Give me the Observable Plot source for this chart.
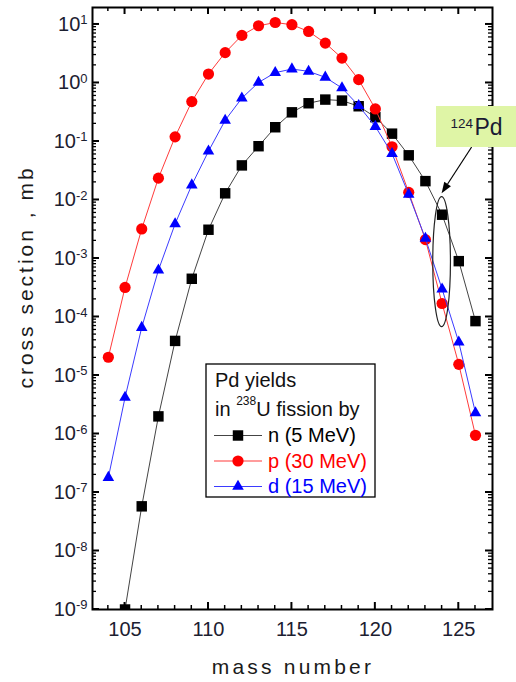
<!DOCTYPE html>
<html>
<head>
<meta charset="utf-8">
<script src="https://cdn.jsdelivr.net/npm/d3@7"></script>
<script src="https://cdn.jsdelivr.net/npm/@observablehq/plot@0.6"></script>
<style>
  body { margin: 0; background: #fff; }
  #chart { position: relative; width: 516px; height: 682px; }
  svg { overflow: visible; }
</style>
</head>
<body>
<div id="chart"></div>
<script>
// ---- data ----
const nMass = [105,106,107,108,109,110,111,112,113,114,115,116,117,118,119,120,121,122,123,124,125,126];
const nValues = [1.0e-9,5.8e-8,2.0e-6,3.9e-5,4.5e-4,3.1e-3,1.3e-2,3.9e-2,8.3e-2,0.175,0.315,0.45,0.52,0.50,0.40,0.26,0.136,0.058,0.021,5.6e-3,9.0e-4,8.5e-5];
const pMass = [104,105,106,107,108,109,110,111,112,113,114,115,116,117,118,119,120,121,122,123,124,125,126];
const pValues = [2.05e-5,3.2e-4,3.2e-3,0.0236,0.12,0.48,1.42,3.3,6.5,9.5,10.8,9.9,7.6,4.8,2.66,1.14,0.36,0.081,0.0135,2.1e-3,1.7e-4,1.55e-5,9.5e-7];
const dMass = [104,105,106,107,108,109,110,111,112,113,114,115,116,117,118,119,120,121,122,123,124,125,126];
const dValues = [1.8e-7,4.2e-6,6.6e-5,6.3e-4,3.9e-3,0.018,0.068,0.23,0.55,1.02,1.5,1.73,1.58,1.25,0.82,0.41,0.18,0.062,0.0124,2.2e-3,3.0e-4,3.7e-5,2.3e-6];

const seriesLabels = ["n (5 MeV)", "p (30 MeV)", "d (15 MeV)"];
const seriesColors = ["#000000", "#ff0000", "#0000ff"];
const lineColors = ["#444444", "#ff3b3b", "#3b3bff"];
const seriesSymbols = ["square", "circle", "triangle"];
const legendTitle = ["Pd yields", "in ", "238", "U fission by"];

const xMajorTicks = [105, 110, 115, 120, 125];
const xMinorTicks = [104,106,107,108,109,111,112,113,114,116,117,118,119,121,122,123,124,126];
const yMajorTicks = [1e-9,1e-8,1e-7,1e-6,1e-5,1e-4,1e-3,1e-2,1e-1,1e0,1e1];
const yMinorTicks = [];
for (const m of yMajorTicks) for (const k of [2,3,4,5,6,7,8,9]) if (k*m < 19) yMinorTicks.push(k*m);

const xTitle = "mass number";
const yTitle = "cross section , mb";
const annIsotope = ["124", "Pd"];
const annMass = 124;
const annEllipseY = [1.12e-2, 6.7e-5];
const annArrowFrom = [125.8, 0.079];
const annArrowToY = 0.0128;

// ---- layout ----
const W = 516, H = 682, mL = 92, mR = 24, mT = 7, mB = 73;
const majorLen = 7, minorLen = 4;

// ---- build rows ----
const rowsOf = (mass, vals) => mass.map((m, i) => ({mass: m, value: vals[i]}));
const allRows = [rowsOf(nMass, nValues), rowsOf(pMass, pValues), rowsOf(dMass, dValues)];
const dotR = [5.9, 5.6, 4.3];

const seriesMarks = [];
allRows.forEach((rows, i) => {
  seriesMarks.push(Plot.line(rows, {x: "mass", y: "value", stroke: lineColors[i], strokeWidth: 1, clip: true}));
  seriesMarks.push(Plot.dot(rows, {x: "mass", y: "value", symbol: seriesSymbols[i], r: dotR[i], fill: seriesColors[i], stroke: "none", clip: true}));
});

const plot = Plot.plot({
  width: W,
  height: H,
  marginLeft: mL,
  marginRight: mR,
  marginTop: mT,
  marginBottom: mB,
  style: {fontFamily: "'Liberation Sans', Arial, sans-serif", fontSize: "20px", color: "#000", background: "#fff"},
  x: {domain: [103.05, 127.02]},
  y: {type: "log", domain: [1e-9, 19.5]},
  marks: [
    ...seriesMarks,
    Plot.axisX({anchor: "bottom", ticks: xMajorTicks, tickSize: 0, tickPadding: 12, fontSize: 20, fill: "#1c2030", label: null}),
    Plot.axisY({anchor: "left", ticks: yMajorTicks, tickSize: 0, tickPadding: 5, fontSize: 20, fill: "#1c2030", label: null,
      tickFormat: d => "10^" + Math.round(Math.log10(d))}),
    Plot.frame({stroke: "#000", strokeWidth: 2})
  ]
});

document.getElementById("chart").appendChild(plot);
const svg = d3.select(plot);
const xs = plot.scale("x"), ys = plot.scale("y");

// inward ticks on all four sides, placed through the plot's scales
const fLeft = mL, fRight = W - mR, fTop = mT, fBottom = H - mB;
const tg = svg.append("g").attr("stroke", "#000");
const drawTickX = (v, len, sw) => {
  const x = xs.apply(v);
  tg.append("line").attr("x1", x).attr("x2", x).attr("y1", fBottom).attr("y2", fBottom - len).attr("stroke-width", sw);
  tg.append("line").attr("x1", x).attr("x2", x).attr("y1", fTop).attr("y2", fTop + len).attr("stroke-width", sw);
};
const drawTickY = (v, len, sw) => {
  const y = ys.apply(v);
  tg.append("line").attr("y1", y).attr("y2", y).attr("x1", fLeft).attr("x2", fLeft + len).attr("stroke-width", sw);
  tg.append("line").attr("y1", y).attr("y2", y).attr("x1", fRight).attr("x2", fRight - len).attr("stroke-width", sw);
};
xMajorTicks.forEach(v => drawTickX(v, majorLen, 2));
xMinorTicks.forEach(v => drawTickX(v, minorLen, 1.5));
yMajorTicks.forEach(v => drawTickY(v, majorLen, 2));
yMinorTicks.forEach(v => drawTickY(v, minorLen, 1.3));

// superscript exponents on y tick labels
svg.selectAll('g[aria-label="y-axis tick label"] text').each(function() {
  const t = this.textContent;
  if (!t.includes("^")) return;
  const [base, exp] = t.split("^");
  const sel = d3.select(this);
  sel.text(null);
  sel.append("tspan").text(base);
  sel.append("tspan").attr("dy", "-0.5em").attr("font-size", "13px").text(exp);
});

const font = "'Liberation Sans', Arial, sans-serif";
const addText = (parent, x, y, size, fill, str, anchor = "start") =>
  parent.append("text").attr("x", x).attr("y", y).attr("font-family", font).attr("font-size", size)
    .attr("fill", fill).attr("text-anchor", anchor).text(str);

// axis titles
svg.append("text")
  .attr("transform", "translate(33,277) rotate(-90)")
  .attr("text-anchor", "middle").attr("font-family", font).attr("font-size", 21)
  .attr("letter-spacing", "3px").attr("fill", "#1a1a1a").text(yTitle);
svg.append("text")
  .attr("x", 293).attr("y", 674)
  .attr("text-anchor", "middle").attr("font-family", font).attr("font-size", 21)
  .attr("letter-spacing", "3.2px").attr("fill", "#1a1a1a").text(xTitle);

// annotation: ellipse around the 124 points
const cx = xs.apply(annMass);
const yTop = ys.apply(annEllipseY[0]), yBot = ys.apply(annEllipseY[1]);
svg.append("ellipse")
  .attr("cx", cx).attr("cy", (yTop + yBot) / 2)
  .attr("rx", xs.apply(annMass + 0.53) - cx).attr("ry", (yBot - yTop) / 2)
  .attr("fill", "none").attr("stroke", "#222").attr("stroke-width", 1.2);

// arrow
const ax1 = xs.apply(annArrowFrom[0]), ay1 = ys.apply(annArrowFrom[1]);
const ax2 = cx, ay2 = ys.apply(annArrowToY);
const ang = Math.atan2(ay2 - ay1, ax2 - ax1);
const hl = 11, hw = 4;
const bx = ax2 - hl * Math.cos(ang), by = ay2 - hl * Math.sin(ang);
svg.append("line").attr("x1", ax1).attr("y1", ay1).attr("x2", bx).attr("y2", by)
  .attr("stroke", "#000").attr("stroke-width", 1.2);
svg.append("path")
  .attr("d", `M${ax2},${ay2}L${bx + hw * Math.sin(ang)},${by - hw * Math.cos(ang)}L${bx - hw * Math.sin(ang)},${by + hw * Math.cos(ang)}Z`)
  .attr("fill", "#000");

// annotation box
svg.append("rect").attr("x", 436).attr("y", 106).attr("width", 80).attr("height", 41).attr("fill", "#dff5a6");
addText(svg, 450.5, 127.5, 13.5, "#1a1a33", annIsotope[0]);
addText(svg, 474.5, 134.5, 23, "#1a1a33", annIsotope[1]);

// legend
const lg = svg.append("g");
lg.append("rect").attr("x", 206).attr("y", 364).attr("width", 169).attr("height", 133)
  .attr("fill", "#fff").attr("stroke", "#000").attr("stroke-width", 1.3);
addText(lg, 215, 387, 20, "#111", legendTitle[0]);
const t2 = addText(lg, 215, 415.5, 20, "#111", null);
t2.append("tspan").text(legendTitle[1]);
t2.append("tspan").attr("dy", -11).attr("font-size", 12).text(legendTitle[2]);
t2.append("tspan").attr("dy", 11).text(legendTitle[3]);
const rowY = [435.5, 461, 486.5];
const symArea = dotR.map(r => r * r * Math.PI);
const symTypes = [d3.symbolSquare, d3.symbolCircle, d3.symbolTriangle];
seriesLabels.forEach((lab, i) => {
  lg.append("line").attr("x1", 214).attr("x2", 262).attr("y1", rowY[i]).attr("y2", rowY[i])
    .attr("stroke", lineColors[i]).attr("stroke-width", 1.2);
  lg.append("path").attr("transform", `translate(238,${rowY[i]})`)
    .attr("d", d3.symbol(symTypes[i], symArea[i])()).attr("fill", seriesColors[i]);
  addText(lg, 268, rowY[i] + 6.5, 20, seriesColors[i], lab);
});
</script>
</body>
</html>
